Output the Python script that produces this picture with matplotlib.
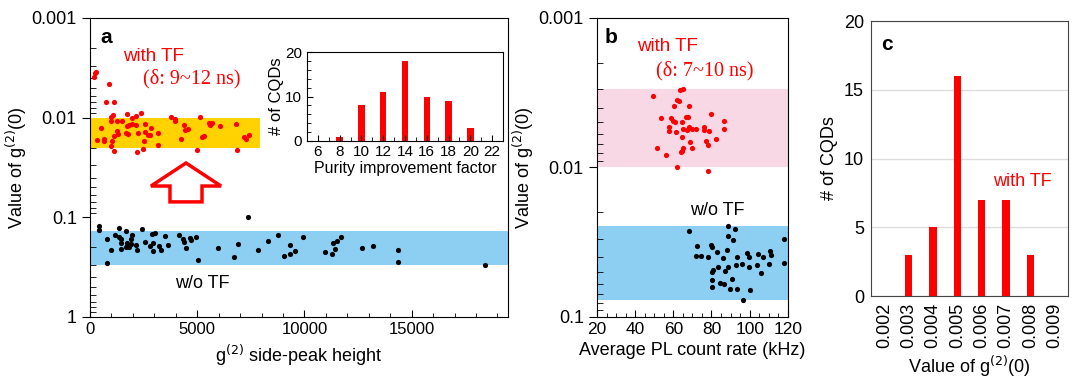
import matplotlib
matplotlib.use("Agg")
import matplotlib.pyplot as plt
from matplotlib.patches import FancyArrow
from matplotlib.ticker import MultipleLocator, LogLocator, NullFormatter, FixedLocator

plt.rcParams['font.family'] = ['Liberation Sans', 'DejaVu Sans']

# ---- panel a : g2(0) vs side-peak height ----
a_tf_x = [187, 249, 296, 888, 732, 1137, 966, 1090, 997, 1278, 1480, 1729, 1963, 2150, 2368,
          514, 327, 654, 670, 1028, 1106, 1246, 1293, 997, 1137, 1714, 1838, 1948, 1683, 1760,
          2150, 2586, 2228, 2540, 2680, 2804, 2851, 2524, 3163, 3163, 2493, 2181, 3770, 3942,
          3973, 4393, 4565, 4440, 4253, 4986, 5110, 5235, 5313, 5578, 5687, 5562, 6076, 6824,
          6871, 7198, 7276, 7432]
a_tf_y = [0.0039, 0.0036, 0.0035, 0.00464, 0.0070, 0.0070, 0.0098, 0.0095, 0.0107, 0.0107,
          0.0107, 0.0092, 0.0100, 0.0097, 0.0090, 0.0126, 0.0168, 0.0164, 0.0172, 0.0171,
          0.0152, 0.0136, 0.0145, 0.0192, 0.0214, 0.0122, 0.0119, 0.0115, 0.0143, 0.0147,
          0.0118, 0.0115, 0.0141, 0.0138, 0.0148, 0.0148, 0.0127, 0.0171, 0.0144, 0.0188,
          0.0207, 0.0222, 0.0098, 0.0103, 0.0107, 0.0118, 0.0129, 0.0133, 0.0162, 0.0210,
          0.0098, 0.0156, 0.0154, 0.0119, 0.0112, 0.0113, 0.0120, 0.0115, 0.0210, 0.0157,
          0.0164, 0.0151]

a_wo_x = [7354, 421, 421, 1371, 1683, 2415, 810, 1153, 1340, 1449, 1449, 1464, 966, 779,
          1714, 1745, 1823, 1683, 1932, 1979, 1901, 2166, 2181, 2555, 2773, 2913, 2913, 2898,
          3007, 3225, 3303, 3490, 3630, 4160, 4331, 4393, 4643, 4690, 4939, 4487, 5017, 5983,
          6918, 6699, 7820, 8318, 8770, 9315, 9035, 9315, 9580, 9939, 10936, 11294, 11419,
          11341, 11528, 11699, 12696, 13195, 14363, 14363, 18430]
a_wo_y = [0.0984, 0.121, 0.135, 0.129, 0.138, 0.132, 0.166, 0.150, 0.156, 0.166, 0.182,
          0.206, 0.214, 0.285, 0.179, 0.193, 0.197, 0.197, 0.166, 0.150, 0.186, 0.188, 0.214,
          0.176, 0.195, 0.183, 0.219, 0.146, 0.144, 0.195, 0.212, 0.153, 0.189, 0.150, 0.166,
          0.176, 0.163, 0.169, 0.156, 0.202, 0.267, 0.202, 0.186, 0.248, 0.212, 0.171, 0.150,
          0.191, 0.244, 0.232, 0.219, 0.156, 0.222, 0.232, 0.207, 0.183, 0.174, 0.159, 0.202,
          0.195, 0.212, 0.280, 0.298]

# inset histogram: purity improvement factor
purity_bins = [8, 10, 12, 14, 16, 18, 20]
purity_counts = [1, 8, 11, 18, 10, 9, 3]

# ---- panel b : g2(0) vs PL count rate ----
b_tf_x = [49.1, 63.5, 64.9, 61.7, 62.9, 60.3, 68.0, 53.7, 58.9, 60.0, 60.7, 64.3, 66.6, 67.8,
          79.9, 86.8, 86.3, 57.7, 57.9, 61.5, 65.2, 67.3, 68.0, 69.7, 71.8, 76.0, 76.0, 78.5,
          64.3, 82.3, 76.9, 78.1, 68.9, 69.7, 64.9, 64.5, 64.2, 51.2, 56.1, 61.9, 78.1]
b_tf_y = [0.0033, 0.00305, 0.00297, 0.00356, 0.0036, 0.0039, 0.0039, 0.0047, 0.0047, 0.0049,
          0.0050, 0.0050, 0.0046, 0.0046, 0.0044, 0.0049, 0.0055, 0.0054, 0.0057, 0.0058,
          0.0055, 0.0056, 0.0054, 0.0055, 0.0055, 0.0054, 0.0056, 0.0057, 0.0063, 0.0064,
          0.0066, 0.0071, 0.0068, 0.0074, 0.0074, 0.0077, 0.0079, 0.0074, 0.0082, 0.0099,
          0.0105]

b_wo_x = [68.3, 88.4, 92.4, 88.4, 91.2, 117.9, 72.5, 79.5, 80.4, 71.7, 74.6, 78.3, 83.0, 88.1,
          86.1, 93.5, 98.7, 99.7, 104.3, 106.9, 110.7, 111.3, 117.9, 110.4, 104.0, 99.9, 96.1,
          93.0, 88.8, 87.2, 83.5, 80.9, 80.4, 106.0, 90.7, 80.2, 84.4, 86.8, 80.2, 89.6, 93.6,
          100.3, 96.4]
b_wo_y = [0.0266, 0.0245, 0.0258, 0.0287, 0.0305, 0.0302, 0.0333, 0.0328, 0.0339, 0.0390,
          0.0390, 0.0396, 0.0367, 0.0358, 0.0402, 0.0396, 0.0376, 0.0400, 0.0380, 0.0396,
          0.0363, 0.0382, 0.0435, 0.0442, 0.0450, 0.0466, 0.0443, 0.0451, 0.0464, 0.0489,
          0.0461, 0.0486, 0.0497, 0.0511, 0.0556, 0.0570, 0.0588, 0.0603, 0.0628, 0.0654,
          0.0654, 0.0664, 0.0771]

# ---- panel c : histogram of g2(0) with TF ----
c_labels = ['0.002', '0.003', '0.004', '0.005', '0.006', '0.007', '0.008', '0.009']
c_counts = [0, 3, 5, 16, 7, 7, 3, 0]

RED = '#ff0000'
serif = ['Liberation Serif', 'DejaVu Serif']

fig = plt.figure(figsize=(10.72, 3.78), dpi=100)


def log_axis(ax, lo, hi):
    ax.set_yscale('log')
    ax.set_ylim(hi, lo)
    ax.yaxis.set_minor_locator(LogLocator(base=10, subs=range(2, 10), numticks=10))
    ax.yaxis.set_minor_formatter(NullFormatter())
    ticks = [t for t in [0.001, 0.01, 0.1, 1] if lo <= t <= hi]
    ax.set_yticks(ticks)
    ax.set_yticklabels(['%g' % t for t in ticks])
    ax.tick_params(axis='y', which='major', direction='out', length=6, labelsize=13)
    ax.tick_params(axis='y', which='minor', direction='in', length=4)
    ax.tick_params(axis='x', which='both', direction='in')
    ax.tick_params(axis='x', which='major', length=5)
    ax.tick_params(axis='x', which='minor', length=3)


# panel a
ax = fig.add_axes([0.084, 0.1614, 0.390, 0.791])
log_axis(ax, 0.001, 1)
ax.set_xlim(0, 19500)
ax.xaxis.set_major_locator(FixedLocator([0, 5000, 10000, 15000]))
ax.xaxis.set_minor_locator(MultipleLocator(1000))
ax.tick_params(axis='x', labelsize=12)
ax.fill_between([0, 7950], 0.01, 0.02, color='#ffd200', lw=0, zorder=0)
ax.axhspan(0.137, 0.30, color='#8ccff2', lw=0, zorder=0)
ax.scatter(a_tf_x, a_tf_y, s=14, color=RED, zorder=3, lw=0)
ax.scatter(a_wo_x, a_wo_y, s=14, color='black', zorder=3, lw=0)
ax.set_xlabel('g$^{(2)}$ side-peak height', fontsize=13)
ax.set_ylabel('Value of g$^{(2)}$(0)', fontsize=13, labelpad=2)
ax.text(0.025, 0.965, 'a', transform=ax.transAxes, fontsize=15, fontweight='bold', va='top')
ax.text(0.08, 0.87, 'with TF', transform=ax.transAxes, color=RED, fontsize=13.5, va='center')
ax.text(0.127, 0.797, '(δ: 9~12 ns)', transform=ax.transAxes, color=RED, fontsize=14.5,
        va='center', family=serif)
ax.text(0.203, 0.113, 'w/o TF', transform=ax.transAxes, fontsize=13, va='center')
ax.add_patch(FancyArrow(0.2295, 0.385, 0, 0.13, width=0.0766, head_width=0.1675,
                        head_length=0.077, length_includes_head=True,
                        transform=ax.transAxes, fc='white', ec=RED, lw=2.5, zorder=4))

# inset
ins = fig.add_axes([0.2864, 0.627, 0.1828, 0.2354])
ins.bar(purity_bins, purity_counts, width=0.6, color=RED)
ins.set_xlim(5, 23)
ins.set_ylim(0, 20)
ins.set_xticks(range(6, 23, 2))
ins.xaxis.set_minor_locator(MultipleLocator(1))
ins.set_yticks([0, 10, 20])
ins.yaxis.set_minor_locator(MultipleLocator(2))
ins.tick_params(which='both', direction='in', labelsize=11)
ins.tick_params(which='major', length=4)
ins.tick_params(which='minor', length=3)
ins.tick_params(axis='x', pad=3)
ins.set_xlabel('Purity improvement factor', fontsize=11.5, labelpad=1)
ins.set_ylabel('# of CQDs', fontsize=12, labelpad=1)

# panel b
bx = fig.add_axes([0.5569, 0.1614, 0.178, 0.791])
log_axis(bx, 0.001, 0.1)
bx.set_xlim(20, 120)
bx.xaxis.set_major_locator(MultipleLocator(20))
bx.xaxis.set_minor_locator(MultipleLocator(5))
bx.tick_params(axis='x', labelsize=12.5)
bx.axhspan(0.003, 0.01, color='#f8d8e4', lw=0, zorder=0)
bx.axhspan(0.0245, 0.0772, color='#8ccff2', lw=0, zorder=0)
bx.scatter(b_tf_x, b_tf_y, s=14, color=RED, zorder=3, lw=0)
bx.scatter(b_wo_x, b_wo_y, s=14, color='black', zorder=3, lw=0)
bx.set_xlabel('Average PL count rate (kHz)', fontsize=13)
bx.set_ylabel('Value of g$^{(2)}$(0)', fontsize=13, labelpad=2)
bx.text(0.04, 0.965, 'b', transform=bx.transAxes, fontsize=15, fontweight='bold', va='top')
bx.text(0.21, 0.905, 'with TF', transform=bx.transAxes, color=RED, fontsize=13.5, va='center')
bx.text(0.31, 0.825, '(δ: 7~10 ns)', transform=bx.transAxes, color=RED, fontsize=14.5,
        va='center', family=serif)
bx.text(0.49, 0.355, 'w/o TF', transform=bx.transAxes, fontsize=13, va='center')

# panel c
cx = fig.add_axes([0.8125, 0.2169, 0.1838, 0.7275])
cx.bar(range(len(c_labels)), c_counts, width=0.3, color=RED, zorder=3)
cx.set_xlim(-0.55, 7.55)
cx.set_ylim(0, 20)
cx.set_yticks([0, 5, 10, 15, 20])
cx.set_xticks(range(len(c_labels)))
cx.set_xticklabels(c_labels, rotation=90)
cx.tick_params(length=0, labelsize=13, pad=5)
cx.grid(axis='y', color='#dddddd', lw=1, zorder=0)
for s in cx.spines.values():
    s.set_color('#444444')
cx.set_xlabel('Value of g$^{(2)}$(0)', fontsize=13)
cx.set_ylabel('# of CQDs', fontsize=13)
cx.text(0.05, 0.95, 'c', transform=cx.transAxes, fontsize=15, fontweight='bold', va='top')
cx.text(0.77, 0.415, 'with TF', transform=cx.transAxes, color=RED, fontsize=13, ha='center',
        va='center')

fig.savefig('out.png', dpi=100)
